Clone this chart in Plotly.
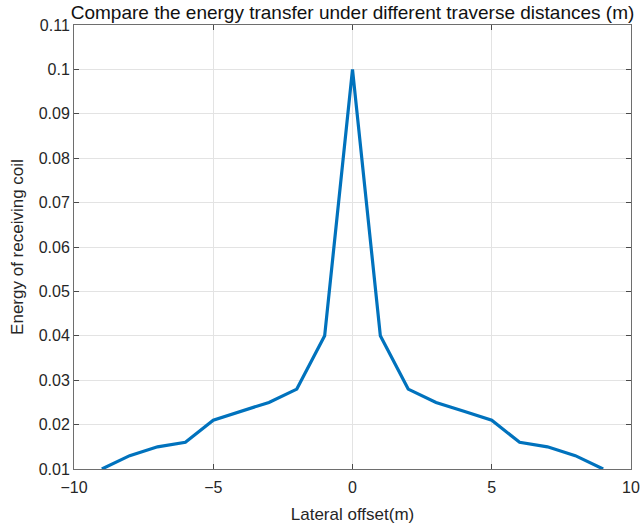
import plotly.graph_objects as go

offset_m = [-9, -8, -7, -6, -5, -4, -3, -2, -1, 0, 1, 2, 3, 4, 5, 6, 7, 8, 9]
energy = [0.010, 0.013, 0.015, 0.016, 0.021, 0.023, 0.025, 0.028, 0.040, 0.100,
          0.040, 0.028, 0.025, 0.023, 0.021, 0.016, 0.015, 0.013, 0.010]
x_ticks = [-10, -5, 0, 5, 10]
y_ticks = [0.01, 0.02, 0.03, 0.04, 0.05, 0.06, 0.07, 0.08, 0.09, 0.10, 0.11]
y_tick_text = ["0.01", "0.02", "0.03", "0.04", "0.05", "0.06", "0.07", "0.08", "0.09", "0.1", "0.11"]

fig = go.Figure()
fig.add_trace(go.Scatter(x=offset_m, y=energy, mode="lines",
                         line=dict(color="#0072BD", width=3.2), showlegend=False))

axis_common = dict(showline=True, linecolor="#6e6e6e", linewidth=1, mirror="ticks",
                   ticks="inside", ticklen=5, tickcolor="#4a4a4a", tickwidth=1,
                   showgrid=True, gridcolor="#e3e3e3", gridwidth=1, zeroline=False,
                   automargin=False,
                   tickfont=dict(family="Liberation Sans", size=16, color="#262626"))

fig.update_layout(
    width=643, height=530,
    margin=dict(l=74, r=12, t=25, b=61, autoexpand=False),
    paper_bgcolor="white", plot_bgcolor="white",
    title=dict(text="Compare the energy transfer under different traverse distances (m)",
               x=0.5, xref="paper", xanchor="center",
               y=1 - 12 / 530, yref="container", yanchor="middle",
               font=dict(family="Liberation Sans", size=19, color="#111111")),
    xaxis=dict(range=[-10, 10], tickvals=x_ticks, ticklabelstandoff=4,
               title=dict(text="Lateral offset(m)", standoff=12,
                          font=dict(family="Liberation Sans", size=17, color="#262626")),
               **axis_common),
    yaxis=dict(range=[0.01, 0.11], tickvals=y_ticks, ticktext=y_tick_text,
               title=dict(text="Energy of receiving coil", standoff=10,
                          font=dict(family="Liberation Sans", size=17, color="#262626")),
               **axis_common),
)

fig.write_html("out.html")
